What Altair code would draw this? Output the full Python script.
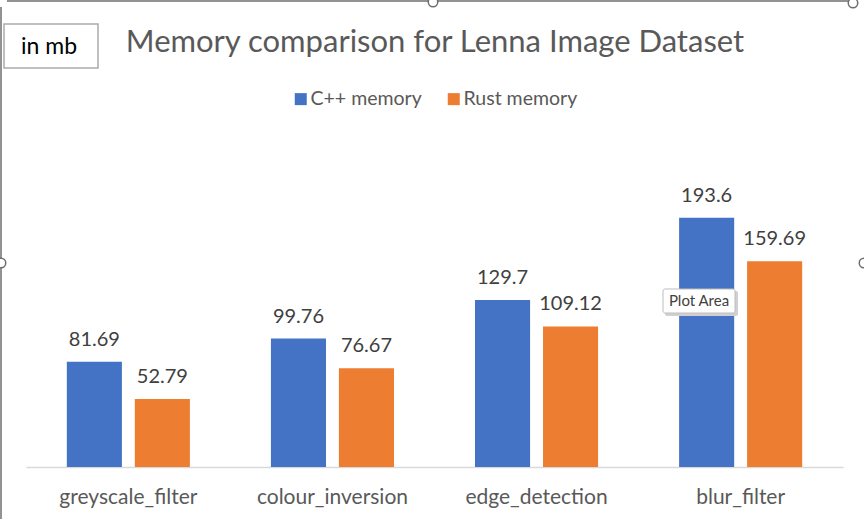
import altair as alt
import pandas as pd

# ---- data ----
categories = ["greyscale_filter", "colour_inversion", "edge_detection", "blur_filter"]
series = ["C++ memory", "Rust memory"]
cpp_memory = [81.69, 99.76, 129.7, 193.6]
rust_memory = [52.79, 76.67, 109.12, 159.69]
colors = ["#4472C4", "#ED7D31"]

rows = []
for c, a, b in zip(categories, cpp_memory, rust_memory):
    rows.append({"category": c, "series": series[0], "value": a, "label": str(a)})
    rows.append({"category": c, "series": series[1], "value": b, "label": str(b)})
df = pd.DataFrame(rows)

FONT = "Lato"
L, T, R, B = 26, 145, 843, 467   # plot area in page pixels
W, H = R - L, B - T


def px(x):
    return x - L


def py(y):
    return y - T


one = pd.DataFrame({"k": [0]})

x_enc = alt.X(
    "category:N",
    sort=categories,
    scale=alt.Scale(paddingInner=0.397, paddingOuter=0.2),
    axis=alt.Axis(
        title=None, labelAngle=0, ticks=False, domainColor="#D9D9D9",
        domainWidth=1.3, labelFont=FONT, labelFontSize=21, labelColor="#595959",
        labelPadding=19, grid=False,
    ),
)
xo_enc = alt.XOffset("series:N", sort=series,
                     scale=alt.Scale(paddingInner=0.19, paddingOuter=0))
y_enc = alt.Y("value:Q", scale=alt.Scale(domain=[0, 250], nice=False), axis=None)

bars = alt.Chart(df).mark_bar().encode(
    x=x_enc, xOffset=xo_enc, y=y_enc,
    color=alt.Color(
        "series:N",
        scale=alt.Scale(domain=series, range=colors),
        legend=alt.Legend(
            title=None, orient="none", direction="horizontal",
            legendX=px(291), legendY=py(89),
            symbolType="square", symbolSize=144, symbolStrokeWidth=0,
            labelFont=FONT, labelFontSize=19.5, labelColor="#595959",
            columnPadding=22, labelOffset=0,
        ),
    ),
)

labels = alt.Chart(df).mark_text(
    font=FONT, fontSize=20, color="#404040", baseline="alphabetic", dy=-16
).encode(x=x_enc, xOffset=xo_enc, y=y_enc, text="label:N")

title = alt.Chart(one).mark_text(
    font=FONT, fontSize=31, color="#595959", align="center", baseline="middle"
).encode(x=alt.value(px(435)), y=alt.value(py(43)),
         text=alt.value("Memory comparison for Lenna Image Dataset"))

unit_box = alt.Chart(one).mark_rect(fill="white", stroke="#ABABAB", strokeWidth=1.5).encode(
    x=alt.value(px(4)), x2=alt.value(px(98)), y=alt.value(py(24)), y2=alt.value(py(68)))
unit_text = alt.Chart(one).mark_text(
    font=FONT, fontSize=23, color="#000000", align="center", baseline="middle"
).encode(x=alt.value(px(49)), y=alt.value(py(47)), text=alt.value("in mb"))

tip_shadow = alt.Chart(one).mark_rect(fill="#D0D0D0", cornerRadius=2).encode(
    x=alt.value(px(665)), x2=alt.value(px(738)), y=alt.value(py(291)), y2=alt.value(py(316)))
tip_box = alt.Chart(one).mark_rect(fill="#FFFFFF", stroke="#BDBDBD", cornerRadius=2).encode(
    x=alt.value(px(663)), x2=alt.value(px(735)), y=alt.value(py(289)), y2=alt.value(py(313)))
tip_text = alt.Chart(one).mark_text(
    font=FONT, fontSize=15, color="#404040", align="center", baseline="middle"
).encode(x=alt.value(px(699)), y=alt.value(py(301)), text=alt.value("Plot Area"))

border_top = alt.Chart(one).mark_rule(color="#6E6E6E", strokeWidth=1.5).encode(
    x=alt.value(px(7)), x2=alt.value(px(850)), y=alt.value(py(1)))
border_left = alt.Chart(one).mark_rule(color="#6E6E6E", strokeWidth=1.5).encode(
    x=alt.value(px(1)), y=alt.value(py(7)), y2=alt.value(py(519)))

handle_pos = [(433, 2), (1, 263), (864, 263), (853, 3)]
handles = [
    alt.Chart(one).mark_point(
        shape="circle", size=90, filled=True, fill="white",
        stroke="#6E6E6E", strokeWidth=1.5, opacity=1
    ).encode(x=alt.value(px(hx)), y=alt.value(py(hy)))
    for hx, hy in handle_pos
]

chart = alt.layer(
    border_top, border_left, *handles, unit_box, unit_text, title,
    bars, labels, tip_shadow, tip_box, tip_text,
).properties(
    width=W, height=H,
    autosize=alt.AutoSizeParams(type="none"),
    padding={"left": L, "top": T, "right": 864 - R, "bottom": 519 - B},
    background="white",
).configure_view(stroke=None)

chart.save("out.html", embed_options={"renderer": "svg", "actions": False})
